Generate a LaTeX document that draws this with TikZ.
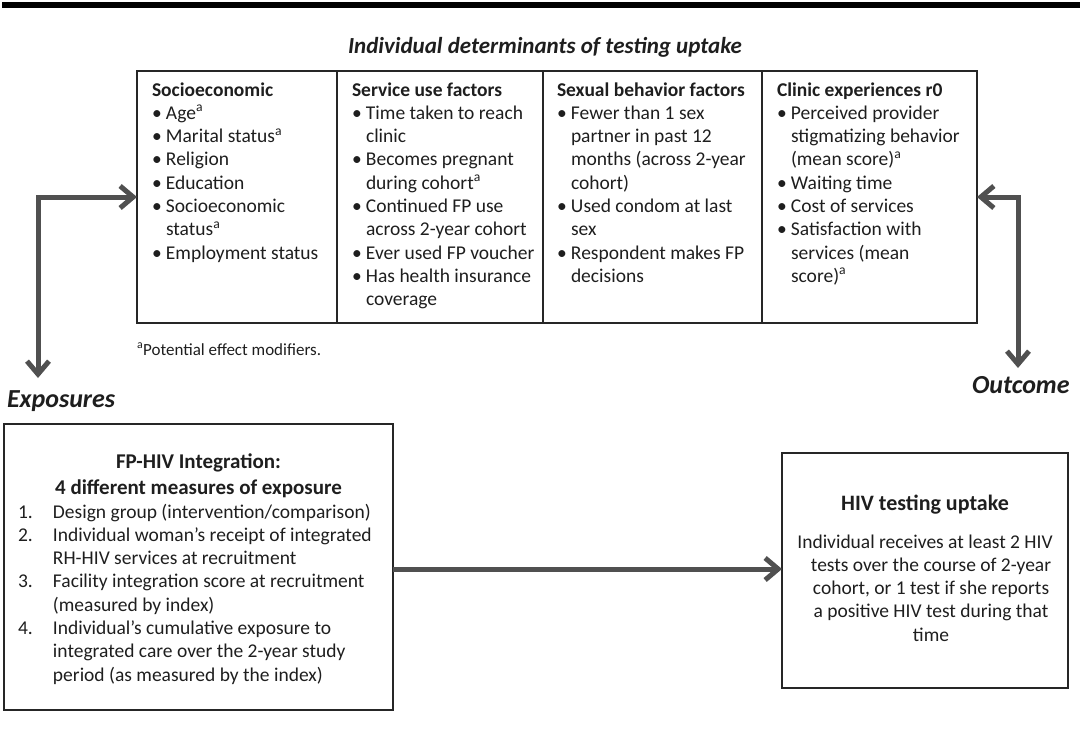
\documentclass[tikz,border=0pt]{standalone}
\usepackage{fontspec}
\setmainfont{Carlito}
\usetikzlibrary{arrows.meta}
\definecolor{arrowgray}{HTML}{505050}
\definecolor{boxline}{HTML}{262626}
\definecolor{ink}{HTML}{1E1E1E}
\newcommand{\bulx}{\makebox[14pt][l]{\textbullet}}
\newcommand{\indx}{\hspace*{14pt}}
\newcommand{\numx}[1]{\makebox[35pt][l]{#1}}
\newcommand{\strutx}{\rule{0pt}{15pt}}
\tikzset{
  colbox/.style={draw=boxline, line width=1.3pt, anchor=north west, minimum height=252pt},
  bigbox/.style={draw=boxline, line width=1.3pt, anchor=north west},
  coltext/.style={anchor=north west, align=left, font=\fontsize{19.5}{23.3}\selectfont},
  conn/.style={draw=arrowgray, line width=5pt},
  barb/.tip={Straight Barb[length=13pt,width=22pt]},
  biglabel/.style={font=\fontsize{26}{30}\selectfont\bfseries\itshape},
}
\begin{document}
\begin{tikzpicture}[x=1pt,y=-1pt, every node/.style={inner sep=0pt, outer sep=0pt, text=ink}]
\useasboundingbox (0,0) rectangle (1082,731);
% top rule
\fill[black] (2,2) rectangle (1080,8);

% title
\node[anchor=base, font=\fontsize{23}{27}\selectfont\bfseries\itshape] (title) at (545,53) {Individual determinants of testing uptake};

% determinant boxes
\node[colbox, minimum width=200pt] (c1) at (137,71) {};
\node[colbox, minimum width=206pt] (c2) at (337,71) {};
\node[colbox, minimum width=219pt] (c3) at (543,71) {};
\node[colbox, minimum width=215pt] (c4) at (762,71) {};

\node[coltext] (t1) at (152,81) {\strutx\textbf{Socioeconomic}\\
\bulx Age\textsuperscript{a}\\
\bulx Marital status\textsuperscript{a}\\
\bulx Religion\\
\bulx Education\\
\bulx Socioeconomic\\
\indx status\textsuperscript{a}\\
\bulx Employment status};

\node[coltext] (t2) at (352,81) {\strutx\textbf{Service use factors}\\
\bulx Time taken to reach\\
\indx clinic\\
\bulx Becomes pregnant\\
\indx during cohort\textsuperscript{a}\\
\bulx Continued FP use\\
\indx across 2-year cohort\\
\bulx Ever used FP voucher\\
\bulx Has health insurance\\
\indx coverage};

\node[coltext] (t3) at (557,81) {\strutx\textbf{Sexual behavior factors}\\
\bulx Fewer than 1 sex\\
\indx partner in past 12\\
\indx months (across 2-year\\
\indx cohort)\\
\bulx Used condom at last\\
\indx sex\\
\bulx Respondent makes FP\\
\indx decisions};

\node[coltext] (t4) at (777,81) {\strutx\textbf{Clinic experiences r0}\\
\bulx Perceived provider\\
\indx stigmatizing behavior\\
\indx (mean score)\textsuperscript{a}\\
\bulx Waiting time\\
\bulx Cost of services\\
\bulx Satisfaction with\\
\indx services (mean\\
\indx score)\textsuperscript{a}};

% footnote
\node[anchor=base west, font=\fontsize{17}{20}\selectfont] (fn) at (137,355) {\textsuperscript{a}Potential effect modifiers.};

% side labels
\node[biglabel, anchor=base west] (explabel) at (7,407) {Exposures};
\node[biglabel, anchor=base west] (outlabel) at (972,393) {Outcome};

% exposure box
\node[bigbox, minimum width=389pt, minimum height=286pt] (expbox) at (4,424) {};
\node[anchor=north, align=center, font=\fontsize{21}{26}\selectfont\bfseries] (exphead) at (198.5,452) {\rule{0pt}{16pt}FP-HIV Integration:\\ 4 different measures of exposure};
\node[coltext] (explist) at (18,503) {\strutx\numx{1.}Design group (intervention/comparison)\\
\numx{2.}Individual woman’s receipt of integrated\\
\hspace*{35pt}RH-HIV services at recruitment\\
\numx{3.}Facility integration score at recruitment\\
\hspace*{35pt}(measured by index)\\
\numx{4.}Individual’s cumulative exposure to\\
\hspace*{35pt}integrated care over the 2-year study\\
\hspace*{35pt}period (as measured by the index)};

% outcome box
\node[bigbox, minimum width=286pt, minimum height=235pt] (outbox) at (782,453) {};
\node[anchor=base, font=\fontsize{22}{26}\selectfont\bfseries] (outhead) at (925,510) {HIV testing uptake};
\node[anchor=north, align=center, font=\fontsize{19.5}{23.3}\selectfont] (outtext) at (931,533) {\strutx Individual receives at least 2 HIV\hspace*{12pt}\\
tests over the course of 2-year\\
cohort, or 1 test if she reports\\
a positive HIV test during that\\
time};

% connectors
\coordinate (expTip) at (38,378);
\coordinate (outTip) at (1018,368);
\coordinate (arrowy) at (500,569);
\draw[conn, {barb}-{barb}] (c1.west) -| (expTip);
\draw[conn, {barb}-{barb}] (c4.east) -| (outTip);
\draw[conn, -{barb}] (expbox.east |- arrowy) -- (outbox.west |- arrowy);
\end{tikzpicture}
\end{document}
